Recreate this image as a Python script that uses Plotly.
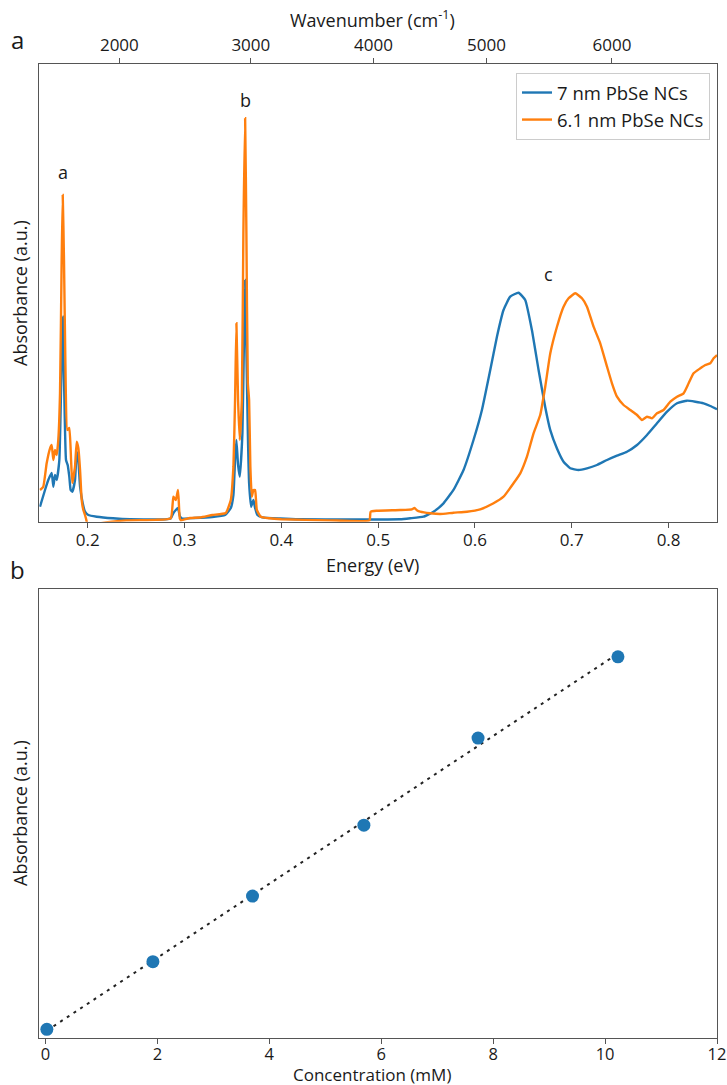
import numpy as np
import plotly.graph_objects as go

# ---- Panel a: absorption spectra (energy in eV, absorbance in a.u.) ----
energy_7nm = [0.1507, 0.1559, 0.1593, 0.1628, 0.1645, 0.1662, 0.1680, 0.1707, 0.1724, 0.1742,
              0.1758, 0.1776, 0.1793, 0.1810, 0.1824, 0.1841, 0.1869, 0.1886, 0.1903, 0.1921,
              0.1948, 0.1972, 0.2006, 0.2093, 0.2262, 0.2437, 0.2600, 0.2800, 0.2858, 0.2885,
              0.2910, 0.2933, 0.2951, 0.2975, 0.3100, 0.3285, 0.3419, 0.3478, 0.3505, 0.3522,
              0.3536, 0.3553, 0.3571, 0.3598, 0.3615, 0.3626, 0.3639, 0.3654, 0.3667, 0.3688,
              0.3712, 0.3729, 0.3753, 0.3804, 0.3987, 0.4194, 0.4711, 0.5227, 0.5331, 0.5468,
              0.5572, 0.5675, 0.5778, 0.5882, 0.5985, 0.6072, 0.6158, 0.6227, 0.6295, 0.6364,
              0.6450, 0.6519, 0.6588, 0.6657, 0.6726, 0.6778, 0.6847, 0.6915, 0.6984, 0.7070,
              0.7157, 0.7260, 0.7364, 0.7467, 0.7570, 0.7674, 0.7777, 0.7880, 0.7984, 0.8087,
              0.8190, 0.8276, 0.8362, 0.8431, 0.8500]
absorb_7nm = [0.0328, 0.0693, 0.0911, 0.1064, 0.0765, 0.1020, 0.0911, 0.1348, 0.2812, 0.4479,
              0.2812, 0.1348, 0.1239, 0.0983, 0.0693, 0.0655, 0.0911, 0.1529, 0.1348, 0.0765,
              0.0409, 0.0218, 0.0146, 0.0109, 0.0074, 0.0052, 0.0050, 0.0050, 0.0074, 0.0190,
              0.0256, 0.0300, 0.0125, 0.0070, 0.0080, 0.0103, 0.0146, 0.0300, 0.0583, 0.1348,
              0.1785, 0.1239, 0.0983, 0.1938, 0.4123, 0.5281, 0.3752, 0.1938, 0.0846, 0.0328,
              0.0474, 0.0300, 0.0146, 0.0096, 0.0070, 0.0052, 0.0048, 0.0052, 0.0074, 0.0109,
              0.0218, 0.0402, 0.0693, 0.1130, 0.1785, 0.2441, 0.3315, 0.4042, 0.4625, 0.4916,
              0.5003, 0.4844, 0.4188, 0.3315, 0.2500, 0.2000, 0.1600, 0.1311, 0.1167, 0.1130,
              0.1167, 0.1239, 0.1348, 0.1442, 0.1529, 0.1676, 0.1894, 0.2150, 0.2403, 0.2587,
              0.2644, 0.2622, 0.2587, 0.2528, 0.2456]

energy_61nm = [0.1507, 0.1541, 0.1576, 0.1611, 0.1628, 0.1645, 0.1662, 0.1680, 0.1696, 0.1714,
               0.1731, 0.1742, 0.1755, 0.1769, 0.1789, 0.1810, 0.1828, 0.1841, 0.1869, 0.1886,
               0.1903, 0.1921, 0.1938, 0.1955, 0.1972, 0.1990, 0.2003, 0.2100, 0.2250, 0.2400,
               0.2700, 0.2858, 0.2885, 0.2910, 0.2933, 0.2951, 0.2964, 0.3057, 0.3160, 0.3288,
               0.3426, 0.3478, 0.3505, 0.3522, 0.3536, 0.3553, 0.3571, 0.3592, 0.3608, 0.3626,
               0.3639, 0.3654, 0.3667, 0.3680, 0.3695, 0.3712, 0.3729, 0.3747, 0.3788, 0.3874,
               0.4000, 0.4500, 0.4910, 0.4922, 0.4987, 0.5227, 0.5348, 0.5375, 0.5403, 0.5434,
               0.5537, 0.5641, 0.5778, 0.5917, 0.6054, 0.6192, 0.6295, 0.6398, 0.6468, 0.6537,
               0.6605, 0.6674, 0.6726, 0.6778, 0.6847, 0.6915, 0.6967, 0.7036, 0.7105, 0.7157,
               0.7225, 0.7294, 0.7364, 0.7415, 0.7467, 0.7535, 0.7604, 0.7674, 0.7725, 0.7777,
               0.7829, 0.7880, 0.7948, 0.8018, 0.8087, 0.8155, 0.8207, 0.8258, 0.8328, 0.8379,
               0.8431, 0.8465, 0.8500]
absorb_61nm = [0.0693, 0.0765, 0.1276, 0.1604, 0.1676, 0.1348, 0.1567, 0.1457, 0.1785, 0.2812,
               0.5718, 0.7138, 0.5718, 0.3533, 0.2004, 0.2047, 0.1348, 0.0846, 0.1202, 0.1748,
               0.1610, 0.1130, 0.0474, 0.0256, 0.0146, 0.0000, -0.0200, -0.0050, 0.0000, 0.0030,
               0.0040, 0.0074, 0.0546, 0.0474, 0.0693, 0.0074, 0.0030, 0.0080, 0.0092, 0.0146,
               0.0190, 0.0474, 0.1202, 0.2659, 0.4335, 0.2659, 0.1785, 0.2659, 0.6308, 0.8814,
               0.6308, 0.3031, 0.2659, 0.1202, 0.0546, 0.0693, 0.0693, 0.0256, 0.0109, 0.0074,
               0.0052, 0.0030, 0.0030, 0.0218, 0.0240, 0.0256, 0.0271, 0.0300, 0.0245, 0.0218,
               0.0184, 0.0168, 0.0197, 0.0218, 0.0271, 0.0402, 0.0546, 0.0839, 0.1057, 0.1420,
               0.1931, 0.2330, 0.2950, 0.3680, 0.4260, 0.4698, 0.4881, 0.4990, 0.4881, 0.4698,
               0.4261, 0.3898, 0.3387, 0.3024, 0.2731, 0.2550, 0.2441, 0.2331, 0.2222, 0.2294,
               0.2259, 0.2368, 0.2441, 0.2622, 0.2731, 0.2805, 0.3024, 0.3242, 0.3352, 0.3424,
               0.3461, 0.3570, 0.3642]

# Top axis: wavenumber tick labels and the energies they sit at
wavenumber_labels = ["2000", "3000", "4000", "5000", "6000"]
wavenumber_tick_energy = [0.2327, 0.3685, 0.4951, 0.6119, 0.7415]

# Peak labels
peak_names = ["a", "b", "c"]
peak_label_energy = [0.1742, 0.3626, 0.6757]
peak_label_absorb = [0.764, 0.921, 0.541]

# ---- Panel b: calibration, absorbance vs concentration ----
concentration_mM = [0.025, 1.92, 3.70, 5.69, 7.73, 10.23]
absorbance_cal = [0.0194, 0.170, 0.316, 0.474, 0.668, 0.849]

BLUE = "#1f77b4"
ORANGE = "#ff7f0e"
FRAME = "#555555"
FONT = "Open Sans"
TEXT = "#1a1a1a"

fig = go.Figure()

fig.add_trace(go.Scatter(x=energy_7nm, y=absorb_7nm, mode="lines", name="7 nm PbSe NCs",
                         line=dict(color=BLUE, width=2.4, shape="spline", smoothing=0.4),
                         xaxis="x", yaxis="y"))
fig.add_trace(go.Scatter(x=energy_61nm, y=absorb_61nm, mode="lines", name="6.1 nm PbSe NCs",
                         line=dict(color=ORANGE, width=2.4, shape="spline", smoothing=0.4),
                         xaxis="x", yaxis="y"))

# linear fit through the calibration points
slope, intercept = np.polyfit(concentration_mM, absorbance_cal, 1)
fit_x = np.array([min(concentration_mM), max(concentration_mM)])
fig.add_trace(go.Scatter(x=fit_x, y=slope * fit_x + intercept, mode="lines", showlegend=False,
                         line=dict(color="#222222", width=2, dash="3px,5px"),
                         xaxis="x2", yaxis="y2"))
fig.add_trace(go.Scatter(x=concentration_mM, y=absorbance_cal, mode="markers", showlegend=False,
                         marker=dict(color=BLUE, size=13), xaxis="x2", yaxis="y2"))

# invisible trace to host the top wavenumber axis
fig.add_trace(go.Scatter(x=[0.15, 0.85], y=[0, 0], mode="lines", showlegend=False,
                         hoverinfo="skip", line=dict(width=0), xaxis="x3", yaxis="y"))

W, H = 727, 1085
x_dom = [39.3 / W, 717.0 / W]
top_dom = [(H - 521.7) / H, (H - 64) / H]
bot_dom = [(H - 1038) / H, (H - 589) / H]

axis_common = dict(showline=True, linecolor=FRAME, linewidth=1.4, mirror=True,
                   showgrid=False, zeroline=False)

fig.update_layout(
    width=W, height=H,
    margin=dict(l=0, r=0, t=0, b=0, autoexpand=False),
    paper_bgcolor="white", plot_bgcolor="white",
    font=dict(family=FONT, color=TEXT),
    xaxis=dict(domain=x_dom, anchor="y", range=[0.15, 0.85], ticks="outside", ticklen=5,
               tickcolor=FRAME, tickvals=[0.2, 0.3, 0.4, 0.5, 0.6, 0.7, 0.8],
               ticklabelstandoff=-2, automargin=False,
               tickfont=dict(family=FONT, size=17, color=TEXT), **axis_common),
    yaxis=dict(domain=top_dom, anchor="x", range=[0, 1.0], showticklabels=False, ticks="",
               automargin=False, **axis_common),
    xaxis3=dict(overlaying="x", anchor="y", side="top", range=[0.15, 0.85],
                tickvals=wavenumber_tick_energy, ticktext=wavenumber_labels,
                ticks="outside", ticklen=5, tickcolor=FRAME, showline=False,
                showgrid=False, zeroline=False, automargin=False,
                tickfont=dict(family=FONT, size=17, color=TEXT)),
    xaxis2=dict(domain=x_dom, anchor="y2", range=[-0.11, 12], ticks="outside", ticklen=5,
                tickcolor=FRAME, tickvals=[0, 2, 4, 6, 8, 10, 12], ticklabelstandoff=-4,
                automargin=False, tickfont=dict(family=FONT, size=16.5, color=TEXT),
                **axis_common),
    yaxis2=dict(domain=bot_dom, anchor="x2", range=[0, 1.0], showticklabels=False, ticks="",
                automargin=False, **axis_common),
    legend=dict(x=710 / W, y=(H - 73) / H, xanchor="right", yanchor="top",
                bgcolor="white", bordercolor="#cccccc", borderwidth=1,
                font=dict(family=FONT, size=18.5, color=TEXT), tracegroupgap=0),
    showlegend=True,
)

annotations = []
for name, ex, ay in zip(peak_names, peak_label_energy, peak_label_absorb):
    annotations.append(dict(x=ex, y=ay, xref="x", yref="y", text=name, showarrow=False,
                            font=dict(family=FONT, size=18, color=TEXT)))

def paper_text(text, px, py, size, angle=0):
    return dict(x=px / W, y=1 - py / H, xref="paper", yref="paper", text=text,
                showarrow=False, textangle=angle, xanchor="center", yanchor="middle",
                font=dict(family=FONT, size=size, color=TEXT))

annotations += [
    paper_text("Wavenumber (cm<sup>-1</sup>)", 372, 19, 18),
    paper_text("Energy (eV)", 372, 565, 18),
    paper_text("Absorbance (a.u.)", 20, 293, 18, -90),
    paper_text("Absorbance (a.u.)", 20, 813, 18, -90),
    paper_text("Concentration (mM)", 372, 1074, 17),
    paper_text("a", 17, 40, 24),
    paper_text("b", 17, 570, 24),
]
fig.update_layout(annotations=annotations)

fig.write_html("out.html")
